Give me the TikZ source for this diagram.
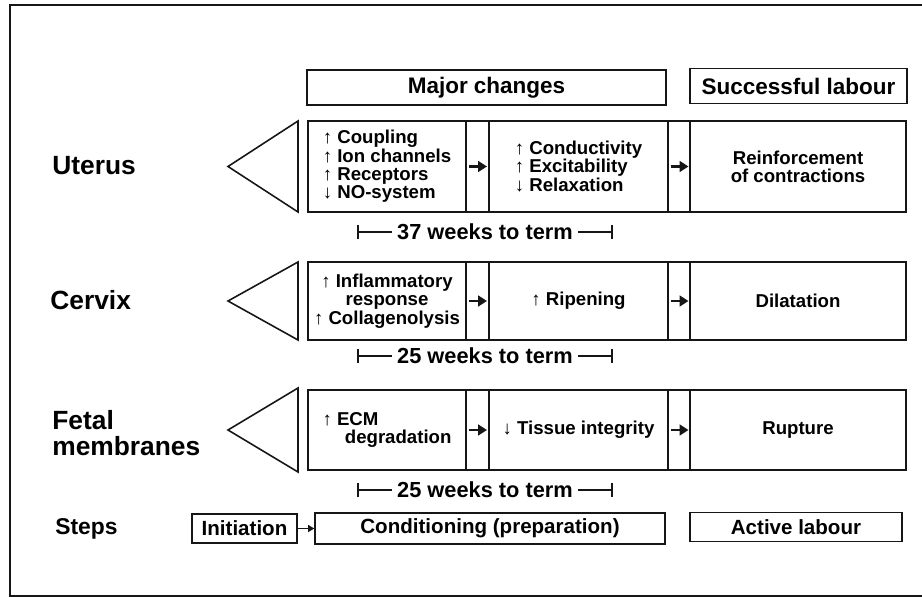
\documentclass[tikz,border=0pt]{standalone}
\usepackage{fontspec}
\setmainfont{Liberation Sans}
\usepackage{tikz}
\usetikzlibrary{arrows.meta, positioning}
\definecolor{InkBlack}{HTML}{161616}
\tikzset{
    % Box styles - plain frames, bold text
    header/.style={
        rectangle,
        draw=InkBlack,
        line width=0.9pt,
        minimum height=0.7cm,
        align=center,
        font=\bfseries\fontsize{12.8}{14}\selectfont
    },
    cell/.style={
        rectangle,
        draw=InkBlack,
        line width=0.9pt,
        inner sep=2pt,
        align=center,
        font=\bfseries\fontsize{10.6}{10.4}\selectfont
    },
    gapbox/.style={
        cell,
        minimum width=0.45cm
    },
    stepbox/.style={
        rectangle,
        draw=InkBlack,
        line width=0.9pt,
        minimum height=0.58cm,
        align=center,
        font=\bfseries\fontsize{11.7}{12}\selectfont
    },
    rowlabel/.style={
        anchor=west,
        align=left,
        inner xsep=0pt,
        font=\bfseries\fontsize{15}{15}\selectfont
    },
    weeks/.style={
        fill=white,
        inner xsep=3pt,
        font=\bfseries\fontsize{12.4}{12}\selectfont
    },
    % Arrow styles
    smallarrow/.style={
        -{Triangle[length=5pt,width=6pt]},
        line width=1.3pt,
        draw=InkBlack
    },
    steparrow/.style={
        -{Triangle[length=3.5pt,width=4pt]},
        line width=0.8pt,
        draw=InkBlack
    },
    span/.style={
        {Bar[width=8pt]}-{Bar[width=8pt]},
        line width=1.1pt,
        draw=InkBlack
    },
    wedge/.style={
        line width=0.9pt,
        draw=InkBlack
    }
}

\begin{document}
\begin{tikzpicture}[x=0.02cm, y=-0.02cm]
    \useasboundingbox (0,0) rectangle (922,597);

    % Frame
    \draw[line width=0.8pt, InkBlack] (922,5) -- (10,5) -- (10,596) -- (922,596);

    % Headings
    \node[header, minimum width=7.18cm] (major) at (486.5,87.5) {Major changes};
    \node[header, minimum width=4.34cm] (success) at (798.5,86) {Successful labour};

    % Uterus
    \node[rowlabel] (uterus) at (52,166) {Uterus};
    \draw[wedge] (298,121) -- (228,166.5) -- (298,212) -- cycle;
    \node[cell, minimum width=3.16cm, minimum height=1.82cm, align=left] (u1) at (387,166.5) {↑ Coupling\\↑ Ion channels\\↑ Receptors\\↓ NO-system};
    \node[gapbox, minimum width=0.46cm, minimum height=1.82cm] (ug1) at (477.5,166.5) {};
    \node[cell, minimum width=3.58cm, minimum height=1.82cm, align=left] (u2) at (578.5,166.5) {↑ Conductivity\\↑ Excitability\\↓ Relaxation};
    \node[gapbox, minimum width=0.44cm, minimum height=1.82cm] (ug2) at (679,166.5) {};
    \node[cell, minimum width=4.32cm, minimum height=1.82cm] (u3) at (798,166.5) {Reinforcement\\of contractions};
    \draw[smallarrow] ([xshift=-0.17cm]ug1.center) -- ([xshift=0.19cm]ug1.center);
    \draw[smallarrow] ([xshift=-0.17cm]ug2.center) -- ([xshift=0.19cm]ug2.center);

    \coordinate (u-from) at (357,232);
    \coordinate (u-to) at (613,232);
    \draw[span] (u-from) -- node[weeks] {37 weeks to term} (u-to);

    % Cervix
    \node[rowlabel] (cervix) at (50,300) {Cervix};
    \draw[wedge] (298,262) -- (228,301) -- (298,340) -- cycle;
    \node[cell, minimum width=3.16cm, minimum height=1.56cm] (c1) at (387,301) {↑ Inflammatory\\response\\↑ Collagenolysis};
    \node[gapbox, minimum width=0.46cm, minimum height=1.56cm] (cg1) at (477.5,301) {};
    \node[cell, minimum width=3.58cm, minimum height=1.56cm] (c2) at (578.5,301) {↑ Ripening};
    \node[gapbox, minimum width=0.44cm, minimum height=1.56cm] (cg2) at (679,301) {};
    \node[cell, minimum width=4.32cm, minimum height=1.56cm] (c3) at (798,301) {Dilatation};
    \draw[smallarrow] ([xshift=-0.17cm]cg1.center) -- ([xshift=0.19cm]cg1.center);
    \draw[smallarrow] ([xshift=-0.17cm]cg2.center) -- ([xshift=0.19cm]cg2.center);

    \coordinate (c-from) at (357,356);
    \coordinate (c-to) at (613,356);
    \draw[span] (c-from) -- node[weeks] {25 weeks to term} (c-to);

    % Fetal membranes
    \node[rowlabel] (fetal) at (52,433) {Fetal\\membranes};
    \draw[wedge] (298,388) -- (228,430) -- (298,472) -- cycle;
    \node[cell, minimum width=3.16cm, minimum height=1.6cm, align=left] (f1) at (387,430) {↑ ECM\\\hspace*{1.2em}degradation};
    \node[gapbox, minimum width=0.46cm, minimum height=1.6cm] (fg1) at (477.5,430) {};
    \node[cell, minimum width=3.58cm, minimum height=1.6cm] (f2) at (578.5,430) {↓ Tissue integrity};
    \node[gapbox, minimum width=0.44cm, minimum height=1.6cm] (fg2) at (679,430) {};
    \node[cell, minimum width=4.32cm, minimum height=1.6cm] (f3) at (798,430) {Rupture};
    \draw[smallarrow] ([xshift=-0.17cm]fg1.center) -- ([xshift=0.19cm]fg1.center);
    \draw[smallarrow] ([xshift=-0.17cm]fg2.center) -- ([xshift=0.19cm]fg2.center);

    \coordinate (f-from) at (357,490);
    \coordinate (f-to) at (613,490);
    \draw[span] (f-from) -- node[weeks] {25 weeks to term} (f-to);

    % Steps
    \node[rowlabel, font=\bfseries\fontsize{13}{13}\selectfont] (steps) at (55,529) {Steps};
    \node[stepbox, minimum width=2.1cm] (init) at (244.5,528.5) {Initiation};
    \node[stepbox, minimum width=7cm] (cond) at (490,528.5) {Conditioning (preparation)};
    \node[stepbox, minimum width=4.24cm] (active) at (796,527) {Active labour};
    \draw[steparrow] (init) -- (cond);
\end{tikzpicture}
\end{document}
